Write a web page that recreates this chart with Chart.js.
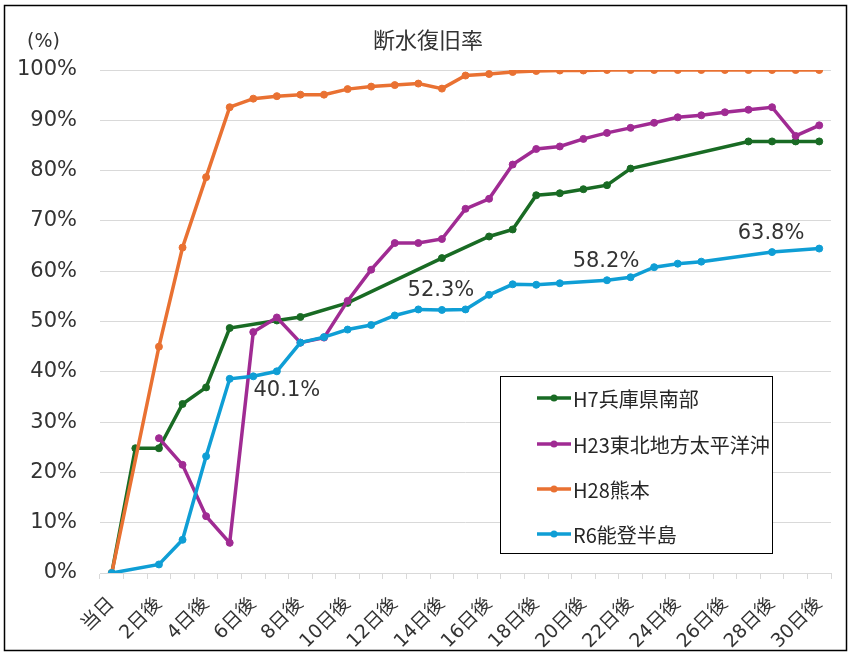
<!DOCTYPE html>
<html lang="ja">
<head>
<meta charset="utf-8">
<title>断水復旧率</title>
<script src="https://cdn.jsdelivr.net/npm/chart.js@4.4.1/dist/chart.umd.min.js"></script>
<style>
  html, body { margin: 0; padding: 0; background: #ffffff; }
  canvas { display: block; }
</style>
</head>
<body>
<canvas id="chart" width="850" height="653"></canvas>
<script>
// 経過日数（カテゴリ）
const days = ['当日', '1日後', '2日後', '3日後', '4日後', '5日後', '6日後', '7日後', '8日後', '9日後',
  '10日後', '11日後', '12日後', '13日後', '14日後', '15日後', '16日後', '17日後', '18日後', '19日後',
  '20日後', '21日後', '22日後', '23日後', '24日後', '25日後', '26日後', '27日後', '28日後', '29日後', '30日後'];

// 断水復旧率（%）— 値のない日は null
const hyogo = [0, 24.8, 24.8, 33.6, 36.9, 48.7, null, 50.2, 50.9, null,
  53.7, null, null, null, 62.6, null, 66.9, 68.3, 75.1, 75.5,
  76.3, 77.1, 80.4, null, null, null, null, 85.8, 85.8, 85.8, 85.8];

const tohoku = [null, null, 26.8, 21.5, 11.3, 6.0, 47.9, 50.8, 45.8, 46.8,
  54.1, 60.3, 65.6, 65.6, 66.4, 72.4, 74.4, 81.2, 84.3, 84.8,
  86.3, 87.5, 88.5, 89.5, 90.6, 91.0, 91.6, 92.1, 92.6, 86.9, 89.0];

const kumamoto = [0, null, 45.0, 64.7, 78.7, 92.6, 94.3, 94.8, 95.1, 95.1,
  96.2, 96.7, 97.0, 97.3, 96.3, 98.9, 99.2, 99.6, 99.8, 99.9,
  99.9, 100, 100, 100, 100, 100, 100, 100, 100, 100, 100];

const noto = [0, null, 1.7, 6.6, 23.2, 38.6, 39.1, 40.1, 45.8, 46.9,
  48.4, 49.3, 51.2, 52.4, 52.3, 52.4, 55.3, 57.4, 57.3, 57.6,
  null, 58.2, 58.8, 60.8, 61.5, 61.9, null, null, 63.8, null, 64.5];

// 値を表示する日（1週間ごと）
const notoLabelDays = [7, 14, 21, 28];

const seriesNames = ['H7兵庫県南部', 'H23東北地方太平洋沖', 'H28熊本', 'R6能登半島'];
const seriesColors = ['#196B24', '#A02B93', '#E97132', '#0F9ED5'];

const numFont = '"DejaVu Sans", "Noto Sans CJK JP", sans-serif';
const jpFont = '"Noto Sans CJK JP", sans-serif';
const textColor = '#333333';
const gridColor = '#d9d9d9';

function makeSeries(idx, data, order) {
  return {
    label: seriesNames[idx],
    data: data,
    borderColor: seriesColors[idx],
    backgroundColor: seriesColors[idx],
    pointBackgroundColor: seriesColors[idx],
    pointBorderColor: seriesColors[idx],
    borderWidth: 3.5,
    pointRadius: 3.5,
    pointBorderWidth: 1,
    spanGaps: true,
    tension: 0,
    order: order
  };
}

// タイトル・単位・データラベル・凡例・外枠を描くプラグイン
const decorations = {
  id: 'decorations',
  afterDatasetsDraw(chart) {
    const ctx = chart.ctx;
    ctx.save();

    // 能登半島の週ごとの値
    const meta = chart.getDatasetMeta(3);
    ctx.font = '21px ' + numFont;
    ctx.fillStyle = textColor;
    ctx.textAlign = 'center';
    ctx.textBaseline = 'middle';
    notoLabelDays.forEach(function (d) {
      const pt = meta.data[d];
      const txt = noto[d].toFixed(1) + '%';
      if (d === 7) {
        ctx.fillText(txt, pt.x + 10, pt.y + 19);
      } else {
        ctx.fillText(txt, pt.x - 1, pt.y - 19);
      }
    });

    // 凡例
    const bx = 500.5, by = 376.5, bw = 272, bh = 177;
    ctx.fillStyle = '#ffffff';
    ctx.fillRect(bx, by, bw, bh);
    ctx.strokeStyle = '#000000';
    ctx.lineWidth = 1;
    ctx.strokeRect(bx, by, bw, bh);
    const rows = [398, 444, 489, 534];
    ctx.font = '20px ' + jpFont;
    ctx.textAlign = 'left';
    ctx.textBaseline = 'middle';
    chart.data.datasets.forEach(function (ds, i) {
      const y = rows[i];
      ctx.strokeStyle = ds.borderColor;
      ctx.lineWidth = 3.5;
      ctx.beginPath();
      ctx.moveTo(537, y);
      ctx.lineTo(571, y);
      ctx.stroke();
      ctx.fillStyle = ds.borderColor;
      ctx.beginPath();
      ctx.arc(554, y, 3.5, 0, Math.PI * 2);
      ctx.fill();
      ctx.fillStyle = '#262626';
      ctx.fillText(ds.label, 573, y + 1);
    });
    ctx.restore();
  },
  afterDraw(chart) {
    const ctx = chart.ctx;
    ctx.save();
    // タイトル
    ctx.fillStyle = textColor;
    ctx.font = '22px ' + jpFont;
    ctx.textAlign = 'center';
    ctx.textBaseline = 'middle';
    ctx.fillText('断水復旧率', 428, 40);
    // 単位
    ctx.font = '19px ' + numFont;
    ctx.textAlign = 'left';
    ctx.fillText('(%)', 27, 42);
    // 外枠
    ctx.strokeStyle = '#000000';
    ctx.lineWidth = 1.5;
    ctx.strokeRect(4.5, 5.5, 842, 645);
    ctx.restore();
  }
};

new Chart(document.getElementById('chart'), {
  type: 'line',
  data: {
    labels: days,
    datasets: [
      makeSeries(0, hyogo, 4),
      makeSeries(1, tohoku, 3),
      makeSeries(2, kumamoto, 2),
      makeSeries(3, noto, 1)
    ]
  },
  options: {
    responsive: false,
    animation: false,
    devicePixelRatio: 1,
    layout: { padding: { top: 70, right: 19, left: 0, bottom: 0 } },
    plugins: {
      legend: { display: false },
      title: { display: false },
      tooltip: { enabled: false }
    },
    scales: {
      x: {
        type: 'category',
        offset: true,
        grid: {
          offset: true,
          drawOnChartArea: false,
          drawTicks: true,
          tickLength: 6,
          color: gridColor
        },
        border: { display: true, color: gridColor, width: 1 },
        ticks: {
          autoSkip: false,
          maxRotation: 45,
          minRotation: 45,
          padding: 14,
          color: textColor,
          font: { size: 19, family: numFont },
          callback: function (value, index) {
            return index % 2 === 0 ? days[index] : '';
          }
        },
        afterFit: function (scale) { scale.height = 80; }
      },
      y: {
        min: 0,
        max: 100,
        grid: { color: gridColor, drawTicks: false },
        border: { display: false },
        ticks: {
          stepSize: 10,
          padding: 23,
          color: textColor,
          font: { size: 21, family: numFont },
          callback: function (v) { return v + '%'; }
        },
        afterFit: function (scale) { scale.width = 100; }
      }
    }
  },
  plugins: [decorations]
});
</script>
</body>
</html>
